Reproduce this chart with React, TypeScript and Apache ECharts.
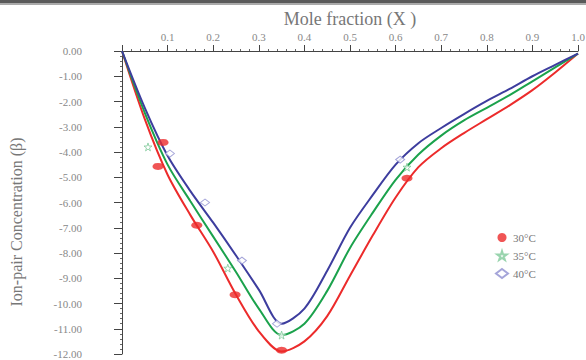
import React, { useEffect, useRef } from "react";
import * as echarts from "echarts";

const seriesNames = ["30°C", "35°C", "40°C"];

const curveX = [
  0, 0.05, 0.1, 0.15, 0.2, 0.25, 0.3, 0.35, 0.4, 0.45, 0.5,
  0.55, 0.6, 0.65, 0.7, 0.75, 0.8, 0.85, 0.9, 0.95, 1.0,
];
const redCurveY = [
  0, -2.7, -4.9, -6.5, -7.95, -9.65, -11.1, -11.9, -11.5, -10.5, -8.9,
  -7.3, -5.8, -4.6, -3.85, -3.25, -2.7, -2.15, -1.55, -0.85, -0.1,
];
const greenCurveY = [
  0, -2.45, -4.5, -5.95, -7.35, -8.75, -10.2, -11.25, -10.8, -9.5, -7.8,
  -6.4, -5.1, -4.1, -3.35, -2.75, -2.25, -1.75, -1.2, -0.65, -0.1,
];
const blueCurveY = [
  0, -2.25, -4.15, -5.55, -6.8, -8.1, -9.45, -10.8, -10.2, -8.7, -7.0,
  -5.7, -4.5, -3.65, -3.05, -2.5, -1.98, -1.5, -1.0, -0.55, -0.1,
];

const redPoints = [
  [0.09, -3.62], [0.079, -4.57], [0.164, -6.9], [0.248, -9.65], [0.35, -11.85], [0.625, -5.04],
];
const greenPoints = [
  [0.057, -3.8], [0.232, -8.6], [0.35, -11.25], [0.625, -4.6],
];
const bluePoints = [
  [0.105, -4.06], [0.182, -6.0], [0.263, -8.3], [0.34, -10.8], [0.61, -4.3],
];

const RED = "#ec2b2b";
const GREEN = "#1ba24c";
const BLUE = "#3d3d9e";
const STAR =
  "path://M50,0 L61,35 L98,35 L68,57 L79,91 L50,70 L21,91 L32,57 L2,35 L39,35 Z";
const FONT = "Liberation Serif";

export default function App() {
  const ref = useRef<HTMLDivElement>(null);
  useEffect(() => {
    document.body.style.margin = "0";
    const chart = echarts.init(ref.current!, undefined, { renderer: "svg" });
    const lineSeries = (ys: number[], color: string) => ({
      type: "line",
      data: curveX.map((x, i) => [x, ys[i]]),
      smooth: 0.3,
      showSymbol: false,
      lineStyle: { color, width: 2 },
      z: 2,
      silent: true,
    });
    chart.setOption({
      animation: false,
      backgroundColor: "#fff",
      grid: [
        { left: 122, right: 8, top: 51, bottom: 6, outerBoundsMode: "none" },
        { left: 84, width: 2, top: 51, bottom: 6, outerBoundsMode: "none" },
      ],
      xAxis: [
        {
          type: "value",
          position: "top",
          min: 0,
          max: 1,
          interval: 0.1,
          axisLine: { show: true, lineStyle: { color: "#444", width: 1 } },
          axisTick: { show: true, inside: false, length: 6, lineStyle: { color: "#444" } },
          minorTick: { show: true, splitNumber: 5, length: 2, lineStyle: { color: "#666" } },
          splitLine: { show: false },
          axisLabel: {
            margin: 9,
            color: "#888",
            fontSize: 11,
            fontFamily: FONT,
            formatter: (v: number) => (v === 0 ? "" : v.toFixed(1)),
          },
        },
        { gridIndex: 1, type: "value", show: false, min: 0, max: 1 },
      ],
      yAxis: [
        {
          type: "value",
          min: -12,
          max: 0,
          interval: 1,
          axisLine: { show: true, lineStyle: { color: "#444", width: 1 } },
          axisTick: { show: true, inside: false, length: 8, lineStyle: { color: "#444" } },
          minorTick: { show: true, splitNumber: 5, length: 2, lineStyle: { color: "#666" } },
          splitLine: { show: false },
          axisLabel: { show: false },
        },
        {
          gridIndex: 1,
          type: "value",
          min: -12,
          max: 0,
          interval: 1,
          axisLine: { show: false },
          axisTick: { show: false },
          splitLine: { show: false },
          axisLabel: {
            margin: 2,
            color: "#888",
            fontSize: 11,
            fontFamily: FONT,
            formatter: (v: number) => v.toFixed(2),
          },
        },
      ],
      legend: {
        orient: "vertical",
        left: 490,
        top: 227,
        itemGap: 7,
        itemWidth: 12,
        itemHeight: 9,
        data: seriesNames,
        textStyle: { color: "#777", fontSize: 11, fontFamily: FONT },
      },
      series: [
        lineSeries(redCurveY, RED),
        lineSeries(greenCurveY, GREEN),
        lineSeries(blueCurveY, BLUE),
        {
          name: seriesNames[0],
          type: "scatter",
          data: redPoints,
          symbol: "circle",
          symbolSize: [11, 7],
          itemStyle: { color: RED },
          z: 3,
        },
        {
          name: seriesNames[1],
          type: "scatter",
          data: greenPoints,
          symbol: STAR,
          symbolSize: 8,
          itemStyle: { color: "#fff", borderColor: "#7fc99a", borderWidth: 1 },
          z: 3,
        },
        {
          name: seriesNames[2],
          type: "scatter",
          data: bluePoints,
          symbol: "diamond",
          symbolSize: [9, 7],
          itemStyle: { color: "#fff", borderColor: "#8f8fcf", borderWidth: 1 },
          z: 3,
        },
      ],
      graphic: [
        { type: "rect", shape: { x: 0, y: 0, width: 586, height: 3 }, style: { fill: "#5a5a5a" } },
        { type: "rect", shape: { x: 0, y: 3, width: 586, height: 2 }, style: { fill: "#aaa" } },
        {
          type: "text",
          x: 350,
          y: 19,
          style: {
            text: "Mole fraction (X )",
            fill: "#777",
            font: `18px "${FONT}"`,
            align: "center",
            verticalAlign: "middle",
          },
        },
        {
          type: "text",
          x: 16,
          y: 222,
          rotation: Math.PI / 2,
          style: {
            text: "Ion-pair Concentration (β)",
            fill: "#777",
            font: `16px "${FONT}"`,
            align: "center",
            verticalAlign: "middle",
          },
        },
      ],
    });
    return () => chart.dispose();
  }, []);
  return (
    <div
      ref={ref}
      style={{ position: "fixed", left: 0, top: 0, width: 586, height: 360 }}
    />
  );
}
